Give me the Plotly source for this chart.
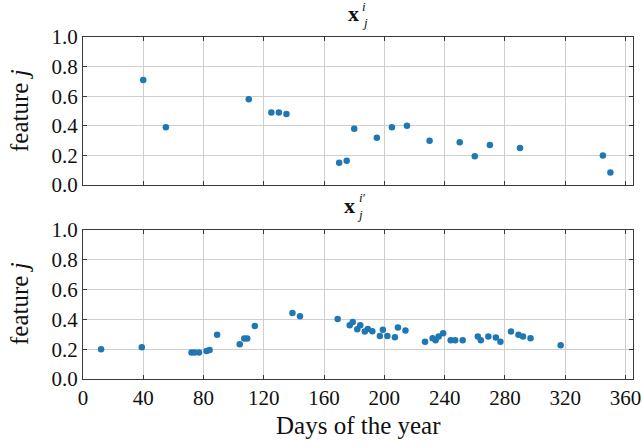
import plotly.graph_objects as go
from plotly.subplots import make_subplots

# Top panel: x_j^i
days_top = [40, 55, 110, 125, 130, 135, 170, 175, 180, 195, 205, 215, 230, 250, 260, 270, 290, 345, 350]
feat_top = [0.71, 0.39, 0.58, 0.49, 0.49, 0.48, 0.15, 0.165, 0.38, 0.32, 0.39, 0.40, 0.30, 0.29, 0.195, 0.27, 0.25, 0.20, 0.085]

# Bottom panel: x_j^i'
days_bot = [12, 39, 72, 74, 77, 82, 84, 89, 104, 107, 109, 114, 139, 144, 169, 177, 179, 182,
            184, 187, 189, 192, 197, 199, 202, 207, 209, 214, 227, 232, 234, 236, 239, 244,
            247, 252, 262, 264, 269, 274, 277, 284, 289, 292, 297, 317]
feat_bot = [0.20, 0.213, 0.177, 0.177, 0.177, 0.188, 0.195, 0.296, 0.233, 0.271, 0.271, 0.356,
            0.442, 0.421, 0.403, 0.361, 0.383, 0.334, 0.361, 0.319, 0.336, 0.321, 0.289, 0.33,
            0.289, 0.28, 0.346, 0.325, 0.249, 0.274, 0.26, 0.285, 0.307, 0.26, 0.26, 0.26,
            0.285, 0.26, 0.285, 0.278, 0.249, 0.319, 0.296, 0.285, 0.274, 0.227]

x_ticks = [0, 40, 80, 120, 160, 200, 240, 280, 320, 360]
y_ticks = [0.0, 0.2, 0.4, 0.6, 0.8, 1.0]

FONT = "Liberation Serif"
BLUE = "#1f77b4"
AXC = "#3a3a3a"
GRID = "#cfcfcf"

fig = make_subplots(rows=2, cols=1, shared_xaxes=False, vertical_spacing=0.0)

fig.add_trace(go.Scatter(x=days_top, y=feat_top, mode="markers",
                         marker=dict(color=BLUE, size=6.5), showlegend=False), row=1, col=1)
fig.add_trace(go.Scatter(x=days_bot, y=feat_bot, mode="markers",
                         marker=dict(color=BLUE, size=6.5), showlegend=False), row=2, col=1)

axis_common = dict(showline=True, linecolor=AXC, linewidth=1.2, mirror="ticks",
                   ticks="inside", ticklen=4, tickcolor=AXC, tickwidth=1,
                   showgrid=True, gridcolor=GRID, gridwidth=1, zeroline=False,
                   automargin=False,
                   tickfont=dict(family=FONT, size=21, color="#111"))

fig.update_xaxes(range=[0, 365], tickvals=x_ticks, **axis_common)
fig.update_xaxes(showticklabels=False, row=1, col=1)
fig.update_yaxes(range=[0, 1], tickvals=y_ticks, tickformat=".1f", **axis_common)

fig.update_layout(
    width=642, height=447,
    margin=dict(l=83, r=9, t=37, b=68),
    plot_bgcolor="white", paper_bgcolor="white",
    font=dict(family=FONT, size=20, color="#111"),
)
fig.layout.yaxis.domain = [0.567, 1.0]
fig.layout.yaxis2.domain = [0.0, 0.436]


def px2paper(px, py):
    return (px - 83) / 550.0, (379 - py) / 342.0


def ann(text, px, py, size, angle=0):
    x, y = px2paper(px, py)
    fig.add_annotation(text=text, x=x, y=y, xref="paper", yref="paper",
                       xanchor="center", yanchor="middle", showarrow=False,
                       textangle=angle, font=dict(family=FONT, size=size, color="#111"))


# Titles (stacked super/subscripts)
ann("<b>x</b>", 353.5, 13, 22)
ann("<i>i</i>", 364, 7, 13)
ann("<i>j</i>", 365, 22, 13)

ann("<b>x</b>", 349.5, 205, 22)
ann("<i>i</i>′", 362, 197, 13)
ann("<i>j</i>", 360, 214, 13)

# Axis titles
ann("feature <i>j</i>", 19, 111, 25, -90)
ann("feature <i>j</i>", 19, 304, 25, -90)
ann("Days of the year", 358, 426, 25)

fig.write_html("out.html",
               config={"displayModeBar": False},
               post_script="document.body.style.margin='0';document.body.style.padding='0';"
                           "document.body.style.overflow='hidden';")
